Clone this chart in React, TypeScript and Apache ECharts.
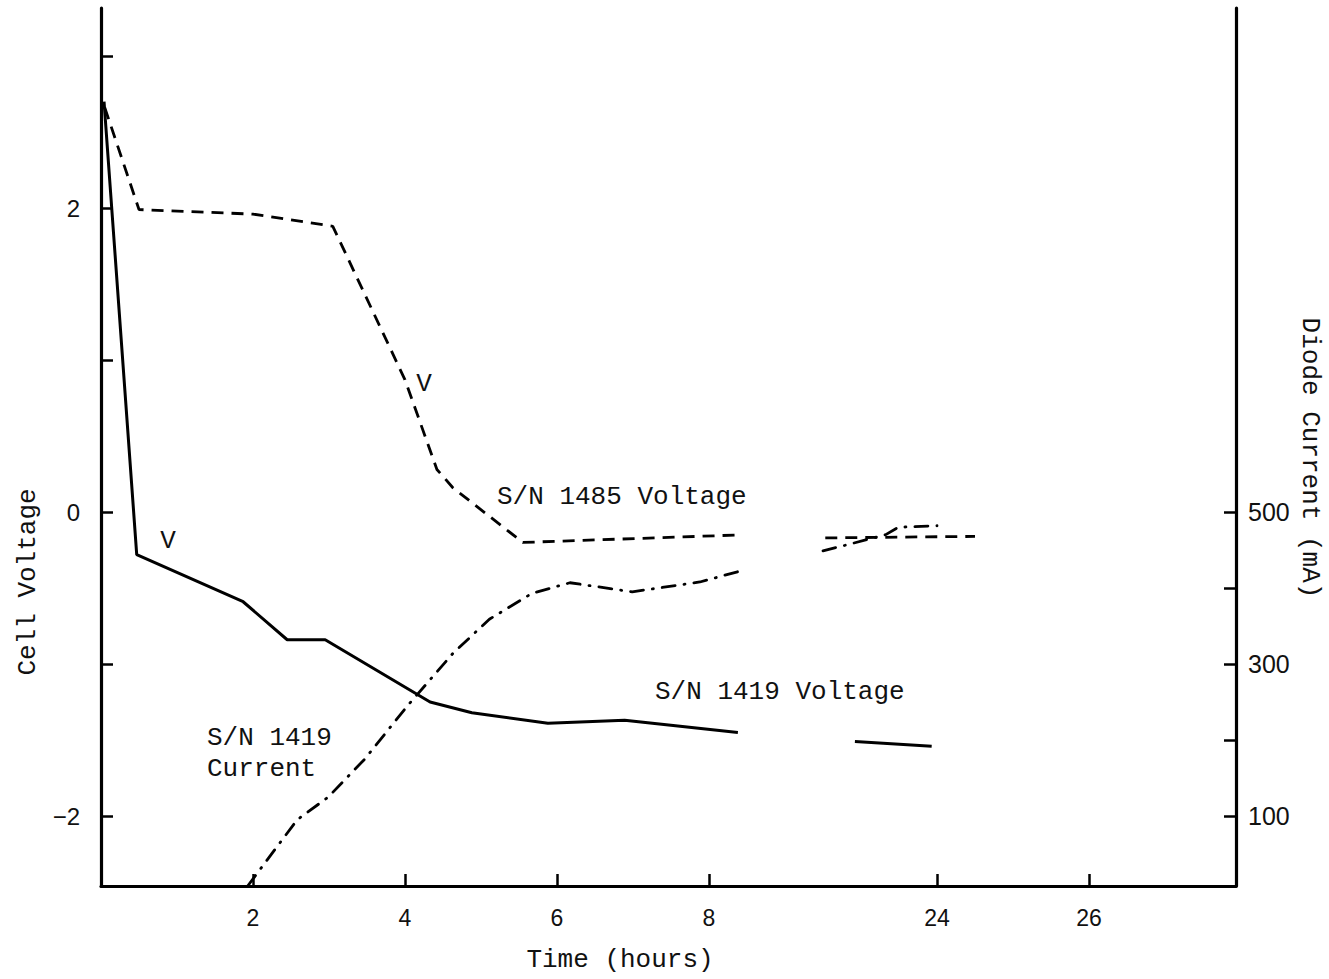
import React, { useEffect, useRef } from "react";
import * as echarts from "echarts";

// Time axis is broken between 8 h and ~22 h: hours after the break are shifted by 13.
const BREAK_SHIFT = 13;
const toPos = (h: number) => (h > 12 ? h - BREAK_SHIFT : h);
const fromPos = (p: number) => (p > 10 ? p + BREAK_SHIFT : p);

// x tick positions (in hours)
const xTickHours = [2, 4, 6, 8, 24, 26];
const voltTicks = [-2, -1, 0, 1, 2, 3];
const voltLabels = [-2, 0, 2];
const currentTicks = [100, 200, 300, 400, 500];
const currentLabels = [100, 300, 500];

// S/N 1485 Voltage (dashed)
const sn1485HoursA = [0.05, 0.5, 2.0, 3.05, 4.0, 4.42, 4.63, 5.55, 8.42];
const sn1485VoltA = [2.66, 1.99, 1.96, 1.88, 0.87, 0.28, 0.16, -0.2, -0.15];
const sn1485HoursB = [22.53, 24.5];
const sn1485VoltB = [-0.17, -0.16];

// S/N 1419 Voltage (solid)
const sn1419HoursA = [0.04, 0.47, 1.87, 2.45, 2.95, 4.33, 4.88, 5.88, 6.89, 8.38];
const sn1419VoltA = [2.7, -0.28, -0.59, -0.84, -0.84, -1.25, -1.32, -1.39, -1.37, -1.45];
const sn1419HoursB = [22.92, 23.93];
const sn1419VoltB = [-1.51, -1.54];

// S/N 1419 Current (dash-dot), mA
const curHoursA = [1.93, 2.58, 2.99, 3.47, 4.04, 4.63, 5.11, 5.67, 6.17, 6.99, 7.88, 8.47];
const curMaA = [8, 95, 125, 175, 246, 314, 359, 393, 407, 395, 408, 424];
const curHoursB = [22.5, 22.82, 23.32, 23.49, 24.0];
const curMaB = [449, 457, 470, 480, 482];

const VMIN = -2.46;
const VMAX = 3.316;
// right axis aligned: 0 V <-> 500 mA, 1 V <-> 200 mA
const IMIN = 500 + VMIN * 200;
const IMAX = 500 + VMAX * 200;
const XMAX = 14.934;

const MONO = "'Liberation Mono', 'DejaVu Sans Mono', monospace";
const SANS = "'Liberation Sans', Arial, sans-serif";

const zip = (xs: number[], ys: number[]) => xs.map((x, i) => [toPos(x), ys[i]]);

export default function App() {
  const ref = useRef<HTMLDivElement>(null);
  useEffect(() => {
    if (!ref.current) return;
    const chart = echarts.init(ref.current, undefined, { renderer: "svg" });
    const axisLine = { show: true, onZero: false, lineStyle: { color: "#000", width: 3.2 } };
    const tick = (vals: number[]) => ({
      show: true,
      inside: true,
      length: 12,
      customValues: vals,
      lineStyle: { color: "#000", width: 2.5 },
    });
    const solid = { color: "#000", width: 3, type: "solid" as any };
    const dashed = { color: "#000", width: 2.8, type: [12, 8] as any };
    const dashDot = { color: "#000", width: 2.8, type: [13, 9, 1, 9] as any, cap: "round" as any };
    const line = (name: string, data: number[][], lineStyle: any, yAxisIndex = 0) => ({
      type: "line",
      name,
      data,
      yAxisIndex,
      showSymbol: false,
      symbol: "none",
      lineStyle,
      z: 3,
    });
    const txt = (text: string, x: number, y: number, extra: any = {}) => ({
      type: "text",
      x,
      y,
      rotation: extra.rotation || 0,
      style: {
        text,
        fill: "#111",
        font: `26px ${MONO}`,
        textAlign: extra.align || "left",
        textVerticalAlign: "middle",
      },
    });
    chart.setOption({
      animation: false,
      backgroundColor: "#fff",
      grid: { left: 101, right: 93, top: 8, bottom: 93, containLabel: false },
      xAxis: {
        type: "value",
        min: 0,
        max: XMAX,
        axisLine,
        splitLine: { show: false },
        axisTick: tick(xTickHours.map(toPos)),
        axisLabel: {
          customValues: xTickHours.map(toPos),
          margin: 20,
          color: "#111",
          fontSize: 23,
          fontFamily: SANS,
          formatter: (v: number) => String(Math.round(fromPos(v))),
        },
      },
      yAxis: [
        {
          type: "value",
          position: "left",
          min: VMIN,
          max: VMAX,
          axisLine,
          splitLine: { show: false },
          axisTick: tick(voltTicks),
          axisLabel: {
            customValues: voltLabels,
            margin: 21,
            color: "#111",
            fontSize: 24,
            fontFamily: SANS,
            formatter: (v: number) => (v < 0 ? "\u2212" + Math.abs(v) : String(v)),
          },
        },
        {
          type: "value",
          position: "right",
          min: IMIN,
          max: IMAX,
          axisLine,
          splitLine: { show: false },
          axisTick: tick(currentTicks),
          axisLabel: {
            customValues: currentLabels,
            margin: 12,
            color: "#111",
            fontSize: 25,
            fontFamily: SANS,
          },
        },
      ],
      series: [
        line("S/N 1485 Voltage", zip(sn1485HoursA, sn1485VoltA), dashed),
        line("S/N 1485 Voltage ", zip(sn1485HoursB, sn1485VoltB), dashed),
        line("S/N 1419 Voltage", zip(sn1419HoursA, sn1419VoltA), solid),
        line("S/N 1419 Voltage ", zip(sn1419HoursB, sn1419VoltB), solid),
        line("S/N 1419 Current", zip(curHoursA, curMaA), dashDot, 1),
        line("S/N 1419 Current ", zip(curHoursB, curMaB), dashDot, 1),
      ],
      graphic: [
        txt("Cell Voltage", 28, 582, { rotation: Math.PI / 2, align: "center" }),
        txt("Diode Current (mA)", 1310, 458, { rotation: -Math.PI / 2, align: "center" }),
        txt("Time (hours)", 620, 960, { align: "center" }),
        txt("V", 168, 541, { align: "center" }),
        txt("V", 424, 384, { align: "center" }),
        txt("S/N 1485 Voltage", 497, 497),
        txt("S/N 1419 Voltage", 655, 692),
        txt("S/N 1419", 207, 738),
        txt("Current", 207, 769),
      ],
    });
    return () => chart.dispose();
  }, []);
  return (
    <div
      ref={ref}
      style={{ position: "fixed", left: 0, top: 0, width: 1329, height: 979, background: "#fff" }}
    />
  );
}
